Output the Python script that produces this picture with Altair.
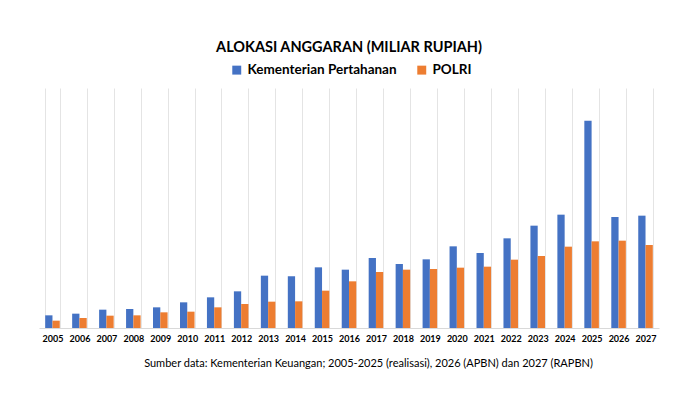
import altair as alt
import pandas as pd

# alokasi anggaran (miliar rupiah)
tahun = ["2005", "2006", "2007", "2008", "2009", "2010", "2011", "2012",
         "2013", "2014", "2015", "2016", "2017", "2018", "2019", "2020",
         "2021", "2022", "2023", "2024", "2025", "2026", "2027"]
kemhan = [19000, 21500, 27500, 28500, 31000, 38500, 46000, 55000,
          78500, 77500, 91000, 87500, 105000, 96000, 103000, 122500,
          112500, 134500, 153500, 170000, 311000, 166500, 168500]
polri = [11000, 15000, 18500, 19000, 23500, 24500, 31000, 36000,
         39500, 40000, 56000, 70000, 84000, 87500, 88500, 90500,
         92000, 102500, 108000, 122000, 130000, 131000, 124500]
seri = ["Kementerian Pertahanan", "POLRI"]
warna = ["#4472C4", "#ED7D31"]

df = pd.concat([
    pd.DataFrame({"Tahun": tahun, "Seri": seri[0], "Nilai": kemhan}),
    pd.DataFrame({"Tahun": tahun, "Seri": seri[1], "Nilai": polri}),
])

font = "Lato"

chart = alt.Chart(df).mark_bar().encode(
    x=alt.X("Tahun:N", sort=tahun,
            scale=alt.Scale(paddingInner=0.46, paddingOuter=0.23),
            axis=alt.Axis(title="Sumber data: Kementerian Keuangan; 2005-2025 (realisasi), 2026 (APBN) dan 2027 (RAPBN)",
                          labelAngle=0, labelFont=font, labelFontWeight="bold",
                          labelFontSize=9, labelColor="#000000", labelPadding=6,
                          ticks=False, domainColor="#D9D9D9",
                          grid=True, gridColor="#E4E4E4", tickBand="extent",
                          titleFont=font, titleFontSize=11, titleFontWeight="normal",
                          titleColor="#000000", titlePadding=14, titleX=329)),
    xOffset=alt.XOffset("Seri:N", sort=seri),
    y=alt.Y("Nilai:Q", axis=None, scale=alt.Scale(domain=[0, 360000])),
    color=alt.Color("Seri:N", scale=alt.Scale(domain=seri, range=warna),
                    legend=alt.Legend(title=None, orient="none", legendX=191, legendY=-25,
                                      direction="horizontal", symbolType="square",
                                      symbolSize=80, symbolStrokeWidth=0,
                                      labelFont=font, labelFontSize=13.5,
                                      labelFontWeight="bold", labelColor="#000000",
                                      columnPadding=18)),
).properties(
    width=620, height=240,
    title=alt.TitleParams("ALOKASI ANGGARAN (MILIAR RUPIAH)", anchor="middle",
                          font=font, fontSize=14.5, fontWeight="bold",
                          color="#000000", offset=8),
    autosize="none",
    padding={"left": 31, "top": 80, "right": 33, "bottom": 64},
).configure_view(strokeWidth=0)

chart.save("out.html", embed_options={"renderer": "svg", "actions": False})
